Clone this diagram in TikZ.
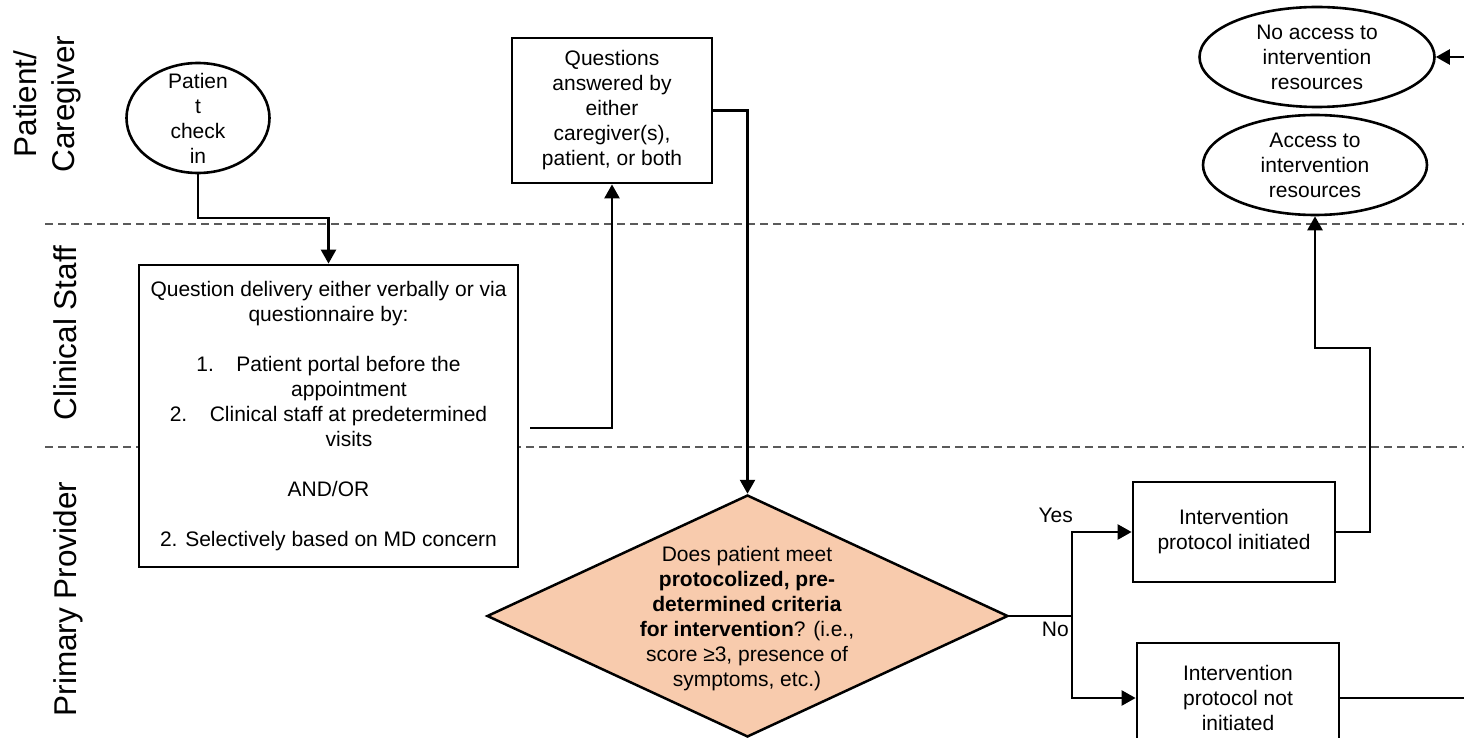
\documentclass[tikz,border=0pt]{standalone}
\usepackage{fontspec}
\setmainfont{Liberation Sans}
\usetikzlibrary{shapes.geometric,arrows.meta}
\definecolor{peach}{RGB}{248,203,173}
\definecolor{laneGray}{RGB}{90,90,90}
\begin{document}
\begin{tikzpicture}[x=1pt,y=-1pt,
  every node/.style={font=\fontsize{21}{25}\selectfont},
  box/.style={draw, line width=2.8pt, fill=white, rectangle, inner sep=0pt, align=center},
  oval/.style={draw, line width=2.6pt, fill=white, ellipse, inner sep=0pt},
  txt/.style={align=center, inner sep=0pt},
  wire/.style={line width=2.5pt},
  arr/.style={line width=2.5pt, -{Triangle[length=14pt,width=15pt]}},
  lane/.style={laneGray, line width=1.4pt, dash pattern=on 8pt off 5pt},
  lanelabel/.style={rotate=90, font=\fontsize{31.5}{38}\selectfont, align=center, inner sep=0pt}]

\useasboundingbox (0,0) rectangle (1464,738);

% swim-lane separators
\draw[lane] (45,224) -- (1470,224);
\draw[lane] (45,447) -- (1470,447);

% lane titles
\node[lanelabel] (lanePC) at (47,104) {Patient/\\Caregiver};
\node[lanelabel, anchor=base] (laneCS) at (76,333) {Clinical Staff};
\node[lanelabel, anchor=base] (lanePP) at (76,599) {Primary Provider};

% patient / caregiver lane
\node[oval, minimum width=143pt, minimum height=110pt] (checkin) at (198,118) {};
\node[txt] (checkintext) at (198,118) {Patien\\t\\check\\in};

\node[box, minimum width=200pt, minimum height=145pt] (qa) at (612,110.5)
  {Questions\\answered by\\either\\caregiver(s),\\patient, or both};

\node[oval, minimum width=235pt, minimum height=100pt] (noaccess) at (1317,57) {};
\node[txt] (noaccesstext) at (noaccess.center) {No access to\\intervention\\resources};

\node[oval, minimum width=224pt, minimum height=100pt] (access) at (1315,165) {};
\node[txt] (accesstext) at (access.center) {Access to\\intervention\\resources};

% clinical staff lane
\node[box, minimum width=379pt, minimum height=302pt] (qd) at (328.5,416)
  {Question delivery either verbally or via\\
   questionnaire by:\\[25pt]
   1.\hspace{22.5pt}Patient portal before the\\
   \hspace*{41pt}appointment\\
   2.\hspace{22.5pt}Clinical staff at predetermined\\
   \hspace*{41pt}visits\\[25pt]
   AND/OR\\[25pt]
   2. Selectively based on MD concern};

% primary provider lane
\node[diamond, draw, line width=2.5pt, fill=peach, inner sep=0pt,
      minimum width=521pt, minimum height=242pt] (dec) at (747.5,616) {};
\node[txt] (dectext) at (747,619)
  {Does patient meet\\
   \textbf{protocolized, pre-}\\
   \textbf{determined criteria}\\
   \textbf{for intervention}? (i.e.,\\
   score ≥3, presence of\\
   symptoms, etc.)};

\node[box, minimum width=202pt, minimum height=100pt] (init) at (1234,532)
  {Intervention\\protocol initiated};
\node[box, minimum width=202pt, minimum height=110pt] (notinit) at (1238,698)
  {Intervention\\protocol not\\initiated};

% connectors
\coordinate (j1) at (250,218);
\draw[arr] (checkin.south) |- (j1) -| (qd.north);

\coordinate (qdout) at (530,428);
\draw[arr] (qdout) -| (qa.south);

\draw[arr] (qa.east) -| (dec.north);

\coordinate (split) at (1072,616);
\draw[wire] (dec.east) -- (split);
\draw[arr] (split) |- (init.west);
\draw[arr] (split) |- (notinit.west);
\node[txt, anchor=south east] (yes) at (1073,523) {Yes};
\node[txt, anchor=north east] (no) at (1069,622) {No};

\coordinate (r1) at (1370,348);
\draw[arr] (init.east) -| (r1) -| (access.south);

\coordinate (r2) at (1490,698);
\draw[arr] (notinit.east) -- (r2) |- (noaccess.east);

\end{tikzpicture}
\end{document}
